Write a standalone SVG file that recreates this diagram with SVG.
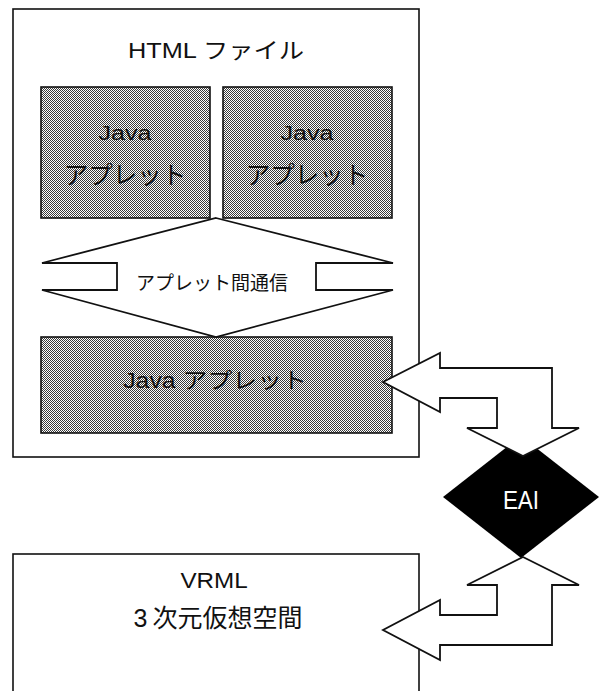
<svg xmlns="http://www.w3.org/2000/svg" width="599" height="691" viewBox="0 0 599 691">
  <defs>
    <!-- fine halftone screen used for the applet boxes -->
    <pattern id="screen" width="2" height="2" patternUnits="userSpaceOnUse">
      <rect width="2" height="2" fill="#ffffff"/>
      <rect x="0" y="0" width="1" height="1" fill="#3a3a3a"/>
      <rect x="1" y="1" width="1" height="1" fill="#3a3a3a"/>
    </pattern>
  </defs>
  <style>
    .frame { fill: #ffffff; stroke: #111111; stroke-width: 1.6; }
    .applet { fill: url(#screen); stroke: #111111; stroke-width: 1.6; }
    .arrow { fill: #ffffff; stroke: #111111; stroke-width: 1.8; stroke-linejoin: miter; }
    .label { font-family: "Liberation Sans", "Noto Sans CJK JP", sans-serif; fill: #111111; text-anchor: middle; }
    .eai { font-family: "Liberation Sans", "Noto Sans CJK JP", sans-serif; fill: #ffffff; text-anchor: middle; }
  </style>

  <rect width="599" height="691" fill="#ffffff"/>

  <!-- HTML file container -->
  <g id="html-file">
    <rect class="frame" x="13" y="9" width="406" height="448"/>
    <text class="label" transform="translate(216,58) scale(1.15,1)" font-size="22">HTML ファイル</text>
  </g>

  <!-- two upper applets -->
  <g id="applet-left">
    <rect class="applet" x="41" y="87" width="169" height="131"/>
    <text class="label" transform="translate(125,140) scale(1.2,1)" font-size="21">Java</text>
    <text class="label" x="125" y="184" font-size="24.5">アプレット</text>
  </g>
  <g id="applet-right">
    <rect class="applet" x="223" y="87" width="169" height="131"/>
    <text class="label" transform="translate(307,140) scale(1.2,1)" font-size="21">Java</text>
    <text class="label" x="307" y="184" font-size="24.5">アプレット</text>
  </g>

  <!-- lower applet -->
  <g id="applet-bottom">
    <rect class="applet" x="41" y="337" width="351" height="96"/>
    <text class="label" transform="translate(215,388) scale(1.13,1)" font-size="22">Java アプレット</text>
  </g>

  <!-- VRML world (runs off the bottom edge) -->
  <g id="vrml">
    <rect class="frame" x="13" y="554" width="406" height="160"/>
    <text class="label" transform="translate(214,588) scale(1.1,1)" font-size="22">VRML</text>
    <text class="label" x="218" y="627" font-size="25">3<tspan dx="5">次元仮想空間</tspan></text>
  </g>

  <!-- EAI junction -->
  <g id="eai">
    <polygon points="521,436 599,497 521,558 443,497" fill="#000000"/>
    <text class="eai" transform="translate(521,509) scale(0.9,1)" font-size="25">EAI</text>
  </g>

  <!-- connectors -->
  <g id="connectors">
    <!-- inter-applet communication: double-headed vertical arrow -->
    <g id="inter-applet">
      <polygon class="arrow" points="216,218 393,263 316,263 316,290 393,290 216,337 42,290 117,290 117,263 42,263"/>
      <text class="label" x="212" y="290" font-size="19">アプレット間通信</text>
    </g>
    <!-- applet to EAI -->
    <polygon class="arrow" points="383,382 440,353 440,368 552,368 552,428 579,428 523,456 467,428 497,428 497,398 440,398 440,412"/>
    <!-- EAI to VRML -->
    <polygon class="arrow" points="523,557 579,585 552,585 552,645 440,645 440,660 383,630 440,600 440,615 497,615 497,585 467,585"/>
  </g>
</svg>
